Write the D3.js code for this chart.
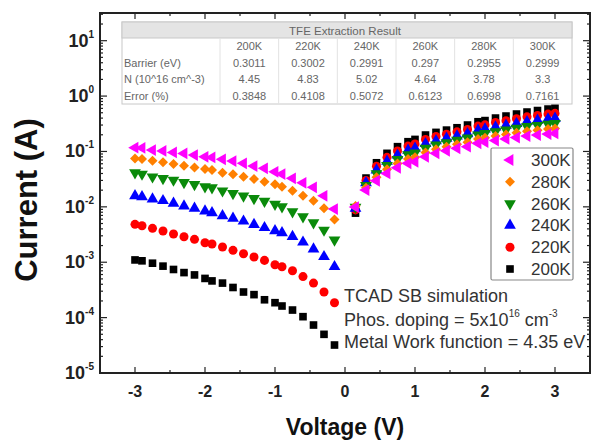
<!DOCTYPE html>
<html lang="en">
<head>
  <meta charset="UTF-8" />
  <title>TCAD SB simulation I-V</title>
  <script src="https://d3js.org/d3.v7.min.js"></script>
  <style>
    body {
      margin: 0;
      background: white;
      font-family: Arial, "Liberation Sans", sans-serif;
    }
    svg {
      display: block;
    }
  </style>
</head>
<body>
  <svg width="606" height="440"></svg>

  <script>
    // voltages of the sweep (negative and positive branch)
    const voltages = [-3.0, -2.9, -2.75, -2.6, -2.45, -2.3, -2.15, -2.0, -1.9, -1.75, -1.6, -1.45, -1.3, -1.15, -1.0, -0.9, -0.75, -0.6, -0.45, -0.3, -0.15,
      0.15, 0.3, 0.45, 0.6, 0.75, 0.9, 1.0, 1.15, 1.3, 1.45, 1.6, 1.75, 1.9, 2.0, 2.15, 2.3, 2.45, 2.6, 2.75, 2.9, 3.0];

    const current300 = [0.117, 0.116, 0.106, 0.102, 0.096, 0.092, 0.086, 0.080, 0.078, 0.072, 0.067, 0.061, 0.0545, 0.0496, 0.0430, 0.0391, 0.0327, 0.0272, 0.0225, 0.0158, 0.0091,
      0.0099, 0.0201, 0.0296, 0.0402, 0.0508, 0.0610, 0.0652, 0.0802, 0.0925, 0.103, 0.114, 0.122, 0.140, 0.148, 0.157, 0.168, 0.178, 0.190, 0.198, 0.206, 0.212];
    const current280 = [0.0750, 0.0729, 0.0680, 0.0636, 0.0593, 0.0552, 0.0516, 0.0481, 0.0462, 0.0413, 0.0386, 0.0349, 0.0318, 0.0284, 0.0255, 0.0231, 0.0195, 0.0158, 0.0129, 0.0094, 0.0059,
      0.0104, 0.0222, 0.0344, 0.0475, 0.0605, 0.0730, 0.0785, 0.0960, 0.110, 0.122, 0.135, 0.146, 0.168, 0.177, 0.190, 0.203, 0.217, 0.232, 0.242, 0.254, 0.261];
    const current260 = [0.0413, 0.0391, 0.0349, 0.0327, 0.0305, 0.0277, 0.0255, 0.0231, 0.0221, 0.0195, 0.0175, 0.0158, 0.0142, 0.0127, 0.0112, 0.01005, 0.00817, 0.00663, 0.00516, 0.00381, 0.00252,
      0.0099, 0.0245, 0.0399, 0.0561, 0.0720, 0.0873, 0.0946, 0.115, 0.131, 0.145, 0.160, 0.175, 0.200, 0.211, 0.229, 0.245, 0.264, 0.283, 0.297, 0.312, 0.321];
    const current240 = [0.0158, 0.0152, 0.0138, 0.0129, 0.0116, 0.0103, 0.0094, 0.0084, 0.0078, 0.0069, 0.0062, 0.0055, 0.0048, 0.0042, 0.0037, 0.0034, 0.0029, 0.0023, 0.00173, 0.00126, 0.00083,
      0.0094, 0.0271, 0.0463, 0.0663, 0.0857, 0.1045, 0.114, 0.138, 0.156, 0.172, 0.190, 0.209, 0.240, 0.253, 0.276, 0.297, 0.320, 0.345, 0.364, 0.384, 0.395];
    const current220 = [0.00483, 0.00456, 0.00409, 0.00366, 0.00323, 0.00289, 0.00259, 0.00225, 0.00213, 0.00188, 0.00164, 0.00142, 0.00124, 0.00108, 0.00090, 0.00083, 0.00070, 0.00055, 0.00042, 0.00029, 0.000186,
      0.0088, 0.0300, 0.0538, 0.0783, 0.102, 0.125, 0.137, 0.165, 0.186, 0.205, 0.226, 0.250, 0.287, 0.302, 0.333, 0.360, 0.389, 0.422, 0.446, 0.473, 0.487];
    const current200 = [0.00110, 0.00106, 0.00096, 0.00085, 0.00074, 0.00065, 0.00059, 0.00051, 0.00046, 0.00042, 0.00035, 0.00029, 0.00026, 0.00021, 0.000186, 0.000162, 0.000137, 0.000104, 0.0000735, 0.0000499, 0.000032,
      0.0077, 0.0331, 0.0625, 0.0925, 0.122, 0.150, 0.165, 0.198, 0.221, 0.243, 0.268, 0.300, 0.344, 0.361, 0.401, 0.436, 0.474, 0.515, 0.548, 0.583, 0.600];

    const seriesNames = ["300K", "280K", "260K", "240K", "220K", "200K"];
    const seriesValues = [current300, current280, current260, current240, current220, current200];

    const xTicks = [-3, -2, -1, 0, 1, 2, 3];
    const yTickExps = [1, 0, -1, -2, -3, -4, -5];

    // TFE table
    const tableTitle = "TFE Extraction Result";
    const tableTemps = ["200K", "220K", "240K", "260K", "280K", "300K"];
    const tableRowLabels = ["Barrier (eV)", "N (10^16 cm^-3)", "Error (%)"];
    const barrierRow = ["0.3011", "0.3002", "0.2991", "0.297", "0.2955", "0.2999"];
    const dopingRow = ["4.45", "4.83", "5.02", "4.64", "3.78", "3.3"];
    const errorRow = ["0.3848", "0.4108", "0.5072", "0.6123", "0.6998", "0.7161"];

    const svg = d3.select("svg");
    const plotL = 100, plotR = 590, plotT = 13, plotB = 373;

    const x = d3.scaleLinear().domain([-3.5, 3.5]).range([plotL, plotR]);
    const y = d3.scaleLog().domain([1e-5, Math.pow(10, 1.5)]).range([plotB, plotT]);

    const styles = {
      "300K": { color: "#ff00ff", type: d3.symbolTriangle, rot: -90, size: 60 },
      "280K": { color: "#ff8000", type: d3.symbolSquare, rot: 45, size: 50 },
      "260K": { color: "#0a8a0a", type: d3.symbolTriangle, rot: 180, size: 60 },
      "240K": { color: "#0000ff", type: d3.symbolTriangle, rot: 0, size: 60 },
      "220K": { color: "#ff0000", type: d3.symbolCircle, rot: 0, size: 64 },
      "200K": { color: "#000000", type: d3.symbolSquare, rot: 0, size: 58 }
    };

    // ticks (inward, on all four sides)
    const ticks = svg.append("g").attr("stroke", "#222").attr("stroke-width", 1.2);
    const xMinor = d3.range(-3.5, 3.51, 0.5);
    xMinor.forEach(v => {
      const len = Number.isInteger(v) ? 6 : 3;
      ticks.append("line").attr("x1", x(v)).attr("x2", x(v)).attr("y1", plotB).attr("y2", plotB - len);
      ticks.append("line").attr("x1", x(v)).attr("x2", x(v)).attr("y1", plotT).attr("y2", plotT + len);
    });
    for (let e = -5; e <= 1; e++) {
      for (let m = 1; m <= 9; m++) {
        const v = m * Math.pow(10, e);
        if (v > y.domain()[1]) continue;
        const len = m === 1 ? 7 : 3;
        ticks.append("line").attr("x1", plotL).attr("x2", plotL + len).attr("y1", y(v)).attr("y2", y(v));
        ticks.append("line").attr("x1", plotR).attr("x2", plotR - len).attr("y1", y(v)).attr("y2", y(v));
      }
    }

    // frame
    svg.append("rect")
      .attr("x", plotL).attr("y", plotT)
      .attr("width", plotR - plotL).attr("height", plotB - plotT)
      .attr("fill", "none").attr("stroke", "#222").attr("stroke-width", 2);

    // x tick labels
    svg.append("g").selectAll("text")
      .data(xTicks)
      .join("text")
      .attr("x", d => x(d))
      .attr("y", 397)
      .attr("text-anchor", "middle")
      .attr("font-size", 16)
      .attr("font-weight", "bold")
      .attr("fill", "#222")
      .text(d => d);

    // y tick labels: 10 with superscript
    const yl = svg.append("g").selectAll("text")
      .data(yTickExps)
      .join("text")
      .attr("x", 94)
      .attr("y", d => y(Math.pow(10, d)) + 6)
      .attr("text-anchor", "end")
      .attr("font-weight", "bold")
      .attr("fill", "#222");
    yl.append("tspan").attr("font-size", 18).text("10");
    yl.append("tspan").attr("font-size", 10).attr("dy", -9).text(d => d);

    // axis titles
    svg.append("text")
      .attr("x", 345).attr("y", 435)
      .attr("text-anchor", "middle")
      .attr("font-size", 23).attr("font-weight", "bold").attr("fill", "#111")
      .text("Voltage (V)");
    svg.append("text")
      .attr("transform", "translate(37,200) rotate(-90)")
      .attr("text-anchor", "middle")
      .attr("font-size", 31).attr("font-weight", "bold").attr("fill", "#111")
      .text("Current (A)");

    // table
    const tX = 122, tW = 450, tY = 22, headH = 16, rowH = 16.5;
    const labelW = 98, colW = (tW - labelW) / tableTemps.length;
    const table = svg.append("g").attr("font-size", 11).attr("fill", "#666");
    table.append("rect").attr("x", tX).attr("y", tY).attr("width", tW).attr("height", headH + rowH * 4)
      .attr("fill", "white").attr("stroke", "#c8c8c8");
    table.append("rect").attr("x", tX).attr("y", tY).attr("width", tW).attr("height", headH)
      .attr("fill", "#e4e4e4").attr("stroke", "#c8c8c8");
    table.append("text").attr("x", tX + tW / 2 - 2).attr("y", tY + 12.5).attr("text-anchor", "middle")
      .attr("font-size", 11.5).text(tableTitle);
    d3.range(tableTemps.length).forEach(i => {
      const cx = tX + labelW + colW * i;
      table.append("line").attr("x1", cx).attr("x2", cx).attr("y1", tY + headH).attr("y2", tY + headH + rowH * 4)
        .attr("stroke", "#e2e2e2");
    });
    const rows = [tableTemps, barrierRow, dopingRow, errorRow];
    rows.forEach((row, r) => {
      const ry = tY + headH + rowH * r + 12;
      if (r > 0) table.append("text").attr("x", tX + 2).attr("y", ry).text(tableRowLabels[r - 1]);
      row.forEach((val, i) => {
        table.append("text").attr("x", tX + labelW + colW * (i + 0.5)).attr("y", ry)
          .attr("text-anchor", "middle").text(val);
      });
    });

    // data points, 200K first so 300K ends on top
    const symbolPath = s => d3.symbol().type(s.type).size(s.size)();
    seriesNames.slice().reverse().forEach(name => {
      const vals = seriesValues[seriesNames.indexOf(name)];
      const s = styles[name];
      svg.append("g").selectAll("path")
        .data(voltages.map((v, i) => ({ v: v, c: vals[i] })))
        .join("path")
        .attr("d", symbolPath(s))
        .attr("fill", s.color)
        .attr("transform", d => `translate(${x(d.v)},${y(d.c)}) rotate(${s.rot})`);
    });

    // legend
    const lg = svg.append("g");
    lg.append("rect").attr("x", 491).attr("y", 148).attr("width", 82).attr("height", 132)
      .attr("fill", "white").attr("stroke", "#888").attr("stroke-width", 1.2).attr("rx", 1.5);
    seriesNames.forEach((name, i) => {
      const s = styles[name];
      const ly = 160 + i * 21.8;
      lg.append("path").attr("d", symbolPath(s)).attr("fill", s.color)
        .attr("transform", `translate(510,${ly}) rotate(${s.rot})`);
      lg.append("text").attr("x", 531).attr("y", ly + 6)
        .attr("font-size", 17).attr("fill", "#333").text(name);
    });

    // annotation
    const note = svg.append("g").attr("font-size", 18).attr("fill", "#333");
    note.append("text").attr("x", 344).attr("y", 302).text("TCAD SB simulation");
    const dop = note.append("text").attr("x", 344).attr("y", 326);
    dop.append("tspan").text("Phos. doping = 5x10");
    dop.append("tspan").attr("font-size", 10).attr("dy", -9).text("16");
    dop.append("tspan").attr("dy", 9).text(" cm");
    dop.append("tspan").attr("font-size", 10).attr("dy", -9).text("-3");
    note.append("text").attr("x", 344).attr("y", 348).text("Metal Work function = 4.35 eV");
  </script>
</body>
</html>
